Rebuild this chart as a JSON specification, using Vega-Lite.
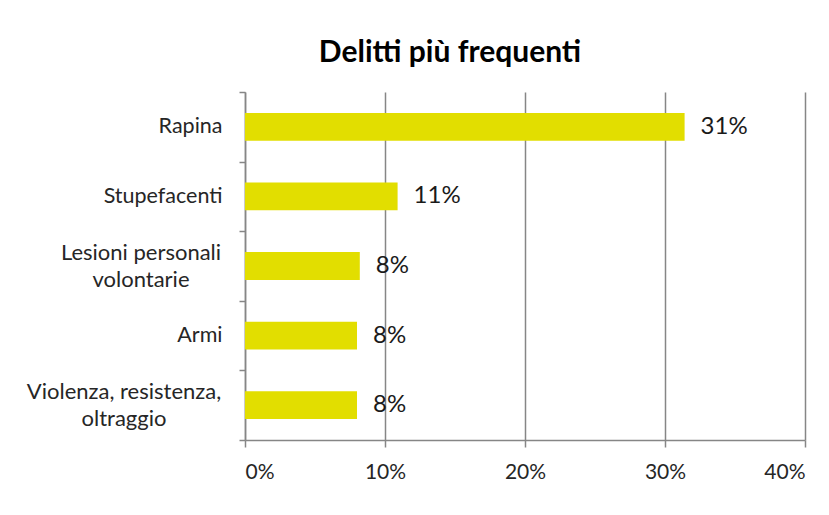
{
  "$schema": "https://vega.github.io/schema/vega-lite/v6.json",
  "width": 560,
  "height": 348,
  "padding": {"left": 26, "top": 38, "right": 10, "bottom": 10},
  "background": "white",
  "title": {
    "text": "Delitti più frequenti",
    "font": "Lato",
    "fontSize": 30,
    "fontWeight": "bold",
    "color": "#000000",
    "anchor": "middle",
    "baseline": "alphabetic",
    "offset": -11,
    "dx": -75
  },
  "data": {
    "values": [
      {"reato": "Rapina", "quota": 0.314},
      {"reato": "Stupefacenti", "quota": 0.109},
      {"reato": "Lesioni personali|volontarie", "quota": 0.082},
      {"reato": "Armi", "quota": 0.080},
      {"reato": "Violenza, resistenza,|oltraggio", "quota": 0.080}
    ]
  },
  "encoding": {
    "y": {
      "field": "reato",
      "type": "nominal",
      "sort": null,
      "scale": {"paddingInner": 0, "paddingOuter": 0},
      "axis": {
        "title": null,
        "tickBand": "extent",
        "tickSize": 6,
        "tickColor": "#868686",
        "tickWidth": 1.5,
        "domainColor": "#868686",
        "domainWidth": 1.5,
        "labelFont": "Lato",
        "labelFontSize": 21.5,
        "labelColor": "#262626",
        "labelExpr": "indexof(datum.label, '|') >= 0 ? '' : datum.label",
        "labelPadding": 17,
        "labelLimit": 300
      }
    },
    "x": {
      "field": "quota",
      "type": "quantitative",
      "scale": {"domain": [0, 0.4], "nice": false},
      "axis": {
        "title": null,
        "values": [0, 0.1, 0.2, 0.3, 0.4],
        "format": ".0%",
        "grid": true,
        "gridColor": "#868686",
        "gridWidth": 1.5,
        "tickSize": 7,
        "tickColor": "#868686",
        "tickWidth": 1.5,
        "domainColor": "#868686",
        "domainWidth": 1.5,
        "labelFont": "Lato",
        "labelFontSize": 21,
        "labelColor": "#262626",
        "labelPadding": 14
      }
    }
  },
  "layer": [
    {"mark": {"type": "bar", "color": "#e2de00", "height": {"band": 0.4}}},
    {
      "mark": {"type": "text", "align": "left", "baseline": "middle", "dx": 16, "font": "Lato", "fontSize": 24, "color": "#1a1a1a"},
      "encoding": {"text": {"field": "quota", "type": "quantitative", "format": ".0%"}}
    },
    {
      "transform": [{"filter": "indexof(datum.reato, 'Lesioni') >= 0"}],
      "mark": {"type": "text", "align": "center", "baseline": "middle", "dx": -104, "dy": -13, "lineBreak": "|", "lineHeight": 27, "font": "Lato", "fontSize": 22, "color": "#262626"},
      "encoding": {"x": {"datum": 0}, "text": {"field": "reato"}}
    },
    {
      "transform": [{"filter": "indexof(datum.reato, 'Violenza') >= 0"}],
      "mark": {"type": "text", "align": "center", "baseline": "middle", "dx": -121, "dy": -13, "lineBreak": "|", "lineHeight": 27, "font": "Lato", "fontSize": 22, "color": "#262626"},
      "encoding": {"x": {"datum": 0}, "text": {"field": "reato"}}
    }
  ],
  "config": {"view": {"stroke": null}}
}
